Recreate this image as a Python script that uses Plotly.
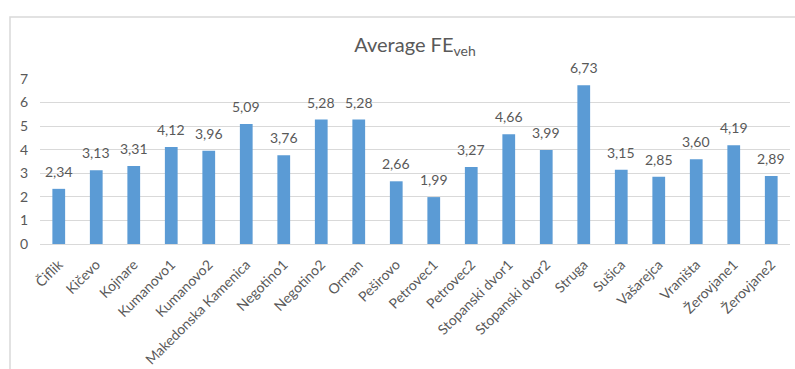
import plotly.graph_objects as go

# Sites and their average FE_veh values
sites = ["Čiflik", "Kičevo", "Kojnare", "Kumanovo1", "Kumanovo2",
         "Makedonska Kamenica", "Negotino1", "Negotino2", "Orman", "Peširovo",
         "Petrovec1", "Petrovec2", "Stopanski dvor1", "Stopanski dvor2", "Struga",
         "Sušica", "Vašarejca", "Vraništa", "Žerovjane1", "Žerovjane2"]
fe_veh = [2.34, 3.13, 3.31, 4.12, 3.96,
          5.09, 3.76, 5.28, 5.28, 2.66,
          1.99, 3.27, 4.66, 3.99, 6.73,
          3.15, 2.85, 3.60, 4.19, 2.89]
y_ticks = [0, 1, 2, 3, 4, 5, 6, 7]

labels = [f"{v:.2f}".replace(".", ",") for v in fe_veh]

FONT = "Lato"
GREY = "#595959"

fig = go.Figure(go.Bar(
    x=sites,
    y=fe_veh,
    marker=dict(color="#5B9BD5", line=dict(width=0)),
    width=0.34,
    hoverinfo="x+y",
))

# value labels above each bar
annotations = [
    dict(x=s, y=v, xref="x", yref="y", text=t, showarrow=False,
         yanchor="bottom", yshift=7,
         font=dict(family=FONT, size=14, color=GREY))
    for s, v, t in zip(sites, fe_veh, labels)
]

fig.update_layout(
    width=795, height=369,
    margin=dict(l=40, r=5, t=79, b=125, autoexpand=False),
    paper_bgcolor="white",
    plot_bgcolor="white",
    showlegend=False,
    font=dict(family=FONT, color=GREY),
    title=dict(
        text="Average FE<sub>veh</sub>",
        x=0.5, xref="paper", xanchor="center",
        y=1 - 45 / 369, yref="container", yanchor="middle",
        font=dict(family=FONT, size=20, color=GREY),
    ),
    xaxis=dict(
        type="category",
        tickangle=-45,
        tickfont=dict(family=FONT, size=14, color=GREY),
        showline=True, linecolor="#d9d9d9", linewidth=1,
        ticks="",
        showgrid=False,
        automargin=False,
        ticklabelstandoff=6,
    ),
    yaxis=dict(
        range=[0, 7],
        tickvals=y_ticks,
        tickfont=dict(family=FONT, size=14, color=GREY),
        showgrid=True, gridcolor="#d9d9d9", gridwidth=1,
        zeroline=False,
        showline=False,
        ticks="",
        automargin=False,
        ticklabelstandoff=11,
    ),
    annotations=annotations,
    shapes=[dict(
        type="rect", xref="paper", yref="paper",
        x0=-0.04, x1=1.02, y0=-1.0, y1=1.376,
        line=dict(color="#d9d9d9", width=1.5),
        fillcolor="rgba(0,0,0,0)",
        layer="below",
    )],
)

fig.write_html("out.html")
